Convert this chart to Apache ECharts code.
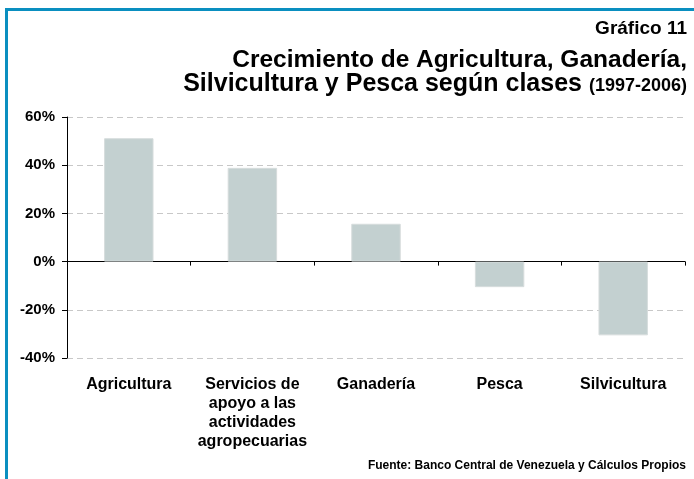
<!DOCTYPE html>
<html>
<head>
<meta charset="utf-8">
<script src="https://cdn.jsdelivr.net/npm/echarts@6/dist/echarts.min.js"></script>
<style>
  html, body { margin: 0; padding: 0; background: #fff; }
  #chart { width: 694px; height: 479px; }
</style>
</head>
<body>
<div id="chart"></div>
<script>
  // datos
  var categories = ['Agricultura', 'Servicios de\napoyo a las\nactividades\nagropecuarias', 'Ganadería', 'Pesca', 'Silvicultura'];
  var growth = [51.2, 38.9, 15.7, -10.6, -30.6];
  var yTicks = [-40, -20, 0, 20, 40, 60];

  var font = '"Liberation Sans", Arial, sans-serif';
  var myChart = echarts.init(document.getElementById('chart'));
  var options = {
    animation: false,
    backgroundColor: '#fff',
    graphic: [
      { type: 'rect', shape: { x: 5, y: 8, width: 689, height: 3 }, style: { fill: '#0a8fc0' } },
      { type: 'rect', shape: { x: 5, y: 8, width: 3, height: 471 }, style: { fill: '#0a8fc0' } },
      {
        type: 'text', x: 687, y: 29,
        style: { text: 'Gráfico 11', font: 'bold 19px ' + font, fill: '#000', align: 'right', verticalAlign: 'middle' }
      },
      {
        type: 'text', x: 687, y: 60,
        style: { text: 'Crecimiento de Agricultura, Ganadería,', font: 'bold 24.5px ' + font, fill: '#000', align: 'right', verticalAlign: 'middle' }
      },
      {
        type: 'text', x: 687, y: 84,
        style: {
          text: 'Silvicultura y Pesca según clases {s|(1997-2006)}', font: 'bold 25px ' + font, fill: '#000',
          align: 'right', verticalAlign: 'middle',
          rich: { s: { font: 'bold 18px ' + font, fill: '#000', verticalAlign: 'bottom', padding: [0, 0, 1, 0] } }
        }
      },
      {
        type: 'text', x: 686, y: 466,
        style: { text: 'Fuente: Banco Central de Venezuela y Cálculos Propios', font: 'bold 12px ' + font, fill: '#000', align: 'right', verticalAlign: 'middle' }
      }
    ],
    grid: { left: 67, right: 9, top: 117, bottom: 121, outerBoundsMode: 'none' },
    xAxis: {
      type: 'category',
      data: categories,
      axisLine: { onZero: true, lineStyle: { color: '#000', width: 1 } },
      axisTick: { show: true, length: 4, inside: false, lineStyle: { color: '#000' } },
      axisLabel: {
        interval: 0, fontFamily: font, fontSize: 16, fontWeight: 'bold', color: '#000',
        lineHeight: 19, margin: 17, align: 'center'
      }
    },
    yAxis: {
      type: 'value',
      min: yTicks[0], max: yTicks[yTicks.length - 1], interval: 20,
      axisLine: { show: true, lineStyle: { color: '#000' } },
      axisTick: { show: true, length: 5, lineStyle: { color: '#000' } },
      axisLabel: {
        fontFamily: font, fontSize: 15, fontWeight: 'bold', color: '#000', margin: 12,
        formatter: '{value}%'
      },
      splitLine: { show: true, lineStyle: { color: '#c8c8c8', type: [6, 4], width: 1 } }
    },
    series: [{
      type: 'bar',
      data: growth,
      barWidth: '40%',
      itemStyle: { color: '#c3d0d0', borderColor: '#d6dcdc', borderWidth: 1 }
    }]
  };
  myChart.setOption(options);
</script>
</body>
</html>
